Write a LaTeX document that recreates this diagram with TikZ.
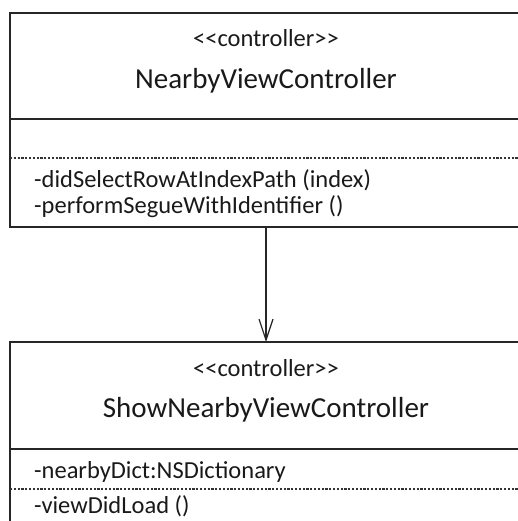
\documentclass[tikz,border=0pt]{standalone}
\usepackage{fontspec}
\setmainfont{Carlito}
\usetikzlibrary{arrows.meta}
\tikzset{
  umlline/.style={line width=1.2pt, draw=black!85},
  sepdash/.style={line width=1.1pt, draw=black!80, dash pattern=on 2.2pt off 1.6pt},
  stereo/.style={inner sep=0pt, anchor=base, font=\fontsize{24.5}{28}\selectfont, text=black!90},
  cname/.style={inner sep=0pt, anchor=base, font=\fontsize{29}{34}\selectfont, text=black!90},
  member/.style={inner sep=0pt, anchor=base west, font=\fontsize{24.5}{28}\selectfont, text=black!90},
}
\newcommand{\stereotype}[1]{{<}{<}#1{>}{>}}
\begin{document}
\begin{tikzpicture}[x=1pt,y=-1pt]
  \useasboundingbox (0,0) rectangle (518,521);
  \begin{scope}
    \clip (0,0) rectangle (518,521);
    % class NearbyViewController
    \draw[umlline] (528,13) -- (10,13) -- (10,227) -- (528,227);
    \draw[umlline] (10,119) -- (528,119);
    \draw[sepdash] (10,158) -- (528,158);
    \node[stereo] (s1) at (266,47) {\stereotype{controller}};
    \node[cname] (c1) at (266,89) {NearbyViewController};
    \node[member] (m1) at (34,188) {-didSelectRowAtIndexPath (index)};
    \node[member] (m2) at (34,214) {-performSegueWithIdentifier ()};
    % class ShowNearbyViewController
    \draw[umlline] (528,342) -- (10,342) -- (10,530);
    \draw[umlline] (10,449) -- (528,449);
    \draw[sepdash] (10,489) -- (528,489);
    \node[stereo] (s2) at (266,376) {\stereotype{controller}};
    \node[cname] (c2) at (266,417) {ShowNearbyViewController};
    \node[member] (m3) at (34,478) {-nearbyDict:NSDictionary};
    \node[member] (m4) at (34,513) {-viewDidLoad ()};
    % association arrow
    \coordinate (a1) at (266,227);
    \coordinate (a2) at (266,342);
    \draw[umlline, -{Straight Barb[length=21pt,width=14pt,line width=1.2pt]}] (a1) -- (a2);
  \end{scope}
\end{tikzpicture}
\end{document}
